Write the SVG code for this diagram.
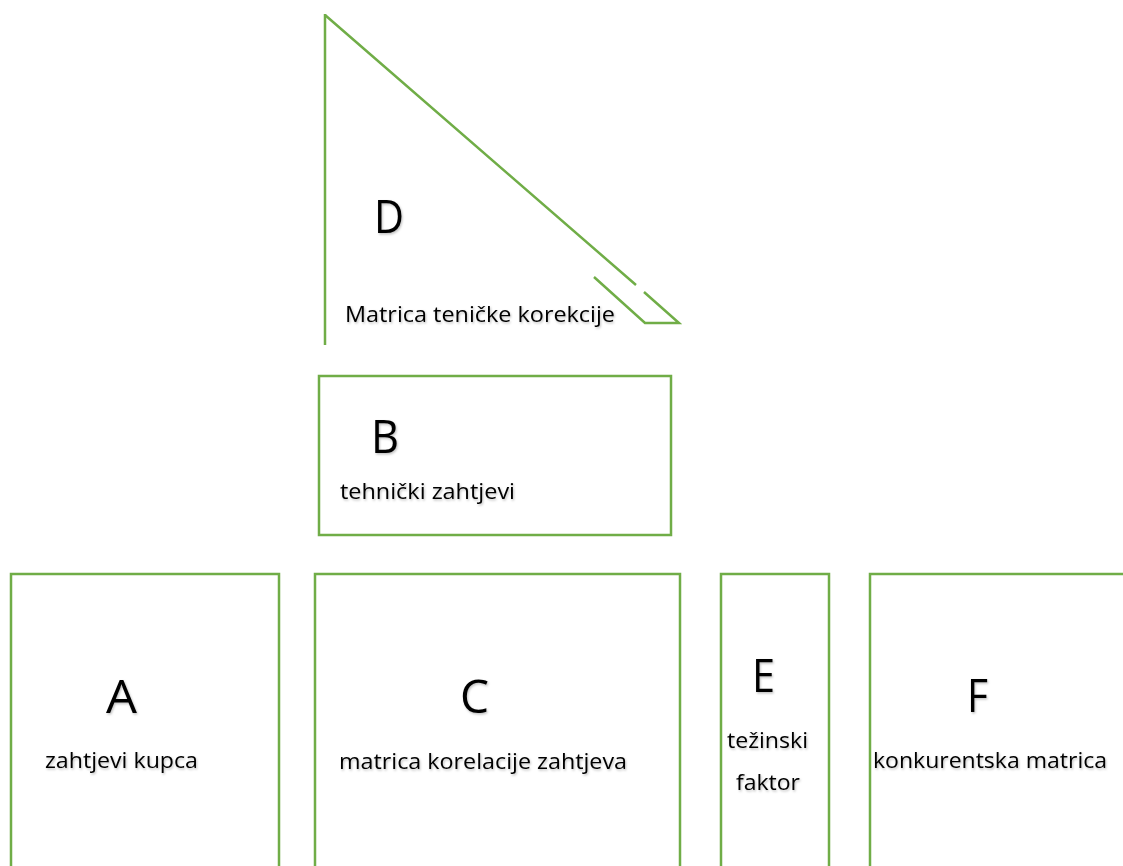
<svg xmlns="http://www.w3.org/2000/svg" width="1123" height="866" viewBox="0 0 1123 866">
<defs>
<style>
.box{fill:#fff;stroke:#70AD47;stroke-width:2.5}
.ln{fill:none;stroke:#70AD47;stroke-width:2.5}
.big{font-family:"Open Sans","Noto Sans",sans-serif;font-size:46px;fill:#000}
.sm{font-family:"Open Sans","Noto Sans",sans-serif;font-size:22.5px;fill:#000}
text{filter:url(#sh)}
</style>
<filter id="sh" x="-10%" y="-20%" width="130%" height="150%">
<feDropShadow dx="1" dy="1.5" stdDeviation="0.8" flood-color="#000" flood-opacity="0.25"/>
</filter>
</defs>
<rect width="1123" height="866" fill="#fff"/>
<g id="D">
<path class="ln" d="M325,14 L325,345"/>
<path class="ln" d="M325,15 L636,285 M644,292 L679,323 L645,323 L594,277"/>
<text class="big" x="374" y="233" textLength="30" lengthAdjust="spacingAndGlyphs">D</text>
<text class="sm" x="345" y="322" textLength="270" lengthAdjust="spacingAndGlyphs">Matrica teničke korekcije</text>
</g>
<g id="B">
<rect class="box" x="319" y="376" width="352" height="159"/>
<text class="big" x="371" y="453" textLength="28" lengthAdjust="spacingAndGlyphs">B</text>
<text class="sm" x="340" y="499" textLength="175" lengthAdjust="spacingAndGlyphs">tehnički zahtjevi</text>
</g>
<g id="A">
<rect class="box" x="11" y="574" width="268" height="300"/>
<text class="big" x="106" y="713" textLength="31" lengthAdjust="spacingAndGlyphs">A</text>
<text class="sm" x="45" y="768" textLength="153" lengthAdjust="spacingAndGlyphs">zahtjevi kupca</text>
</g>
<g id="C">
<rect class="box" x="315" y="574" width="365" height="300"/>
<text class="big" x="460" y="713" textLength="29" lengthAdjust="spacingAndGlyphs">C</text>
<text class="sm" x="339" y="769" textLength="288" lengthAdjust="spacingAndGlyphs">matrica korelacije zahtjeva</text>
</g>
<g id="E">
<rect class="box" x="721" y="574" width="108" height="300"/>
<text class="big" x="752" y="692" textLength="23" lengthAdjust="spacingAndGlyphs">E</text>
<text class="sm" x="727" y="748" textLength="81" lengthAdjust="spacingAndGlyphs">težinski</text>
<text class="sm" x="736" y="790" textLength="64" lengthAdjust="spacingAndGlyphs">faktor</text>
</g>
<g id="F">
<rect class="box" x="870" y="574" width="270" height="300"/>
<text class="big" x="967" y="712" textLength="21" lengthAdjust="spacingAndGlyphs">F</text>
<text class="sm" x="873" y="768" textLength="234" lengthAdjust="spacingAndGlyphs">konkurentska matrica</text>
</g>
<g id="connectors"></g>
</svg>
